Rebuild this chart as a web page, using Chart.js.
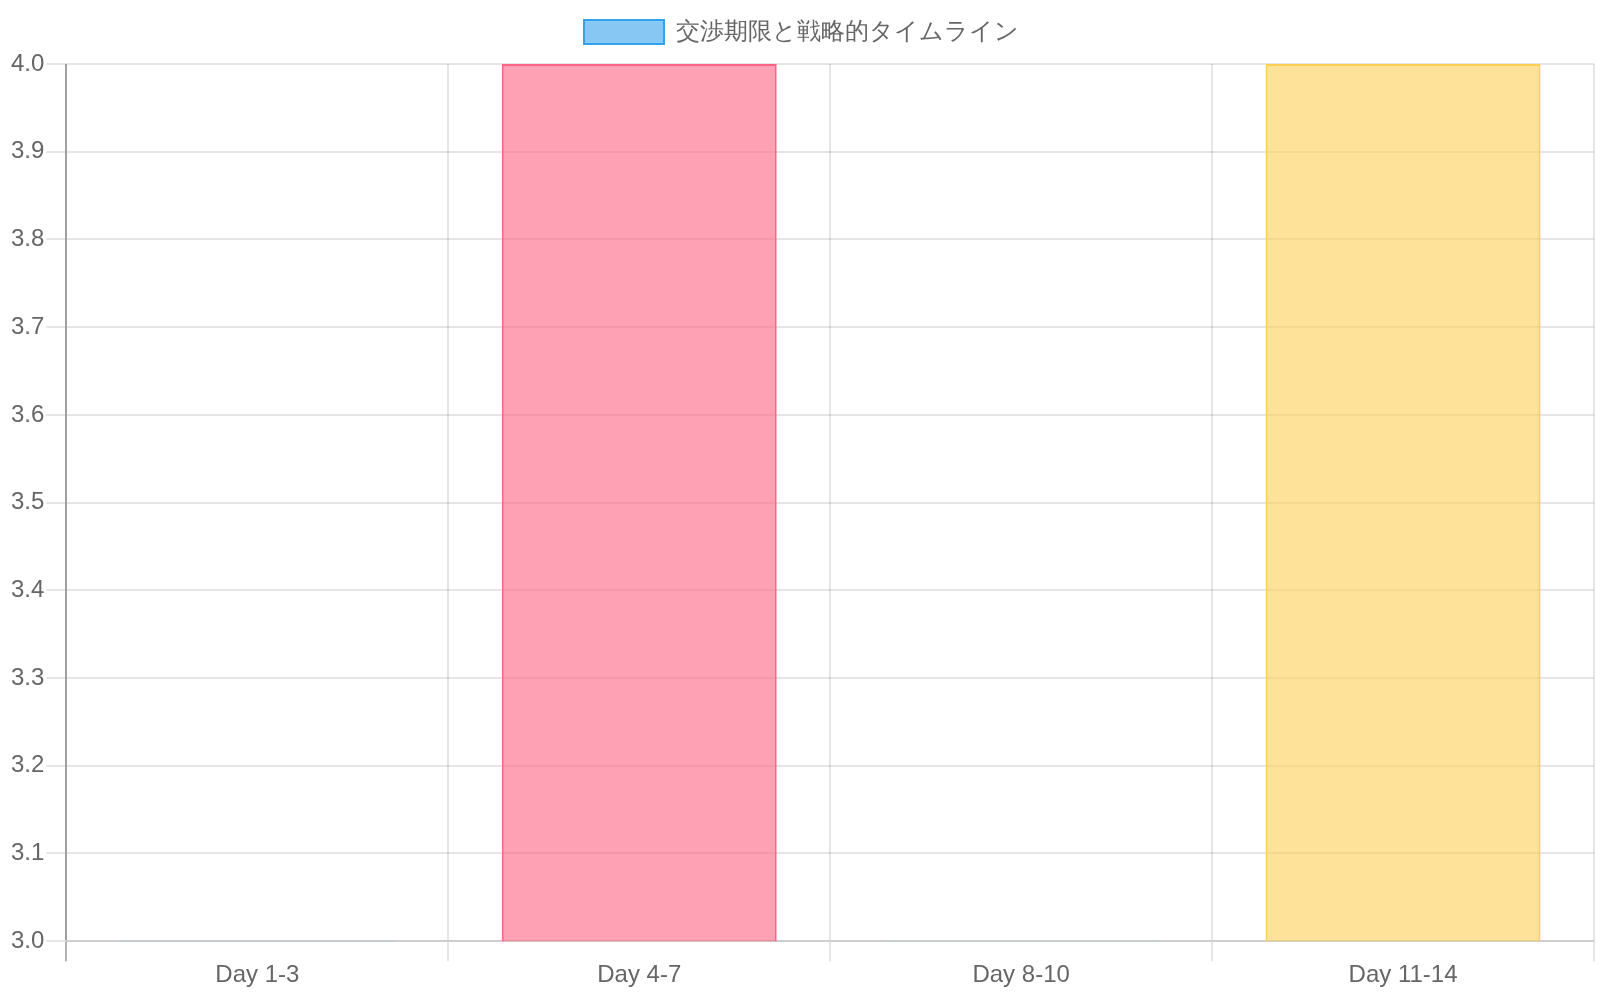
<!DOCTYPE html>
<html lang="ja">
<head>
<meta charset="utf-8">
<script src="https://cdn.jsdelivr.net/npm/chart.js@4.4.0/dist/chart.umd.min.js"></script>
<style>
  html, body { margin: 0; padding: 0; background: #fff; }
  #wrap { width: 1600px; height: 1000px; }
</style>
</head>
<body>
<div id="wrap"><canvas id="timelineChart"></canvas></div>
<script>
 (function () {
     // chart data
     var labels = ['Day 1-3', 'Day 4-7', 'Day 8-10', 'Day 11-14'];
     var values = [3, 4, 3, 4];
     var fillColors = [
         'rgba(54, 162, 235, 0.6)',
         'rgba(255, 99, 132, 0.6)',
         'rgba(75, 192, 192, 0.6)',
         'rgba(255, 206, 86, 0.6)'
     ];
     var lineColors = [
         'rgba(54, 162, 235, 1)',
         'rgba(255, 99, 132, 1)',
         'rgba(75, 192, 192, 1)',
         'rgba(255, 206, 86, 1)'
     ];

     // everything at twice the usual size
     Chart.defaults.font.size = 24;

     // a bit more room under the legend
     var legendGap = {
         id: 'legendGap',
         beforeInit: function (chart) {
             var fit = chart.legend.fit;
             chart.legend.fit = function () {
                 fit.call(this);
                 this.height += 10;
             };
         }
     };

     var ctx = document.getElementById('timelineChart').getContext('2d');
     var myChart = new Chart(ctx, {
         type: 'bar',
         data: {
             labels: labels,
             datasets: [{
                 label: '交渉期限と戦略的タイムライン',
                 data: values,
                 backgroundColor: fillColors,
                 borderColor: lineColors,
                 // no outline on the flat bars sitting on the axis
                 borderWidth: function (c) {
                     return c.parsed && c.parsed.y > c.chart.scales.y.min ? 2 : 0;
                 }
             }]
         },
         options: {
             responsive: true,
             maintainAspectRatio: false,
             animation: false,
             layout: {
                 padding: { left: 9, right: 6, bottom: 10 }
             },
             scales: {
                 x: {
                     grid: {
                         lineWidth: 2,
                         tickLength: 20,
                         color: function (c) {
                             return c.index === 0 ? 'rgba(0, 0, 0, 0.3)' : 'rgba(0, 0, 0, 0.1)';
                         }
                     },
                     border: { width: 2 },
                     ticks: { padding: 0 }
                 },
                 y: {
                     beginAtZero: false,
                     grid: { lineWidth: 2, tickLength: 20 },
                     border: { width: 2 },
                     ticks: { padding: 2 }
                 }
             },
             plugins: {
                 legend: {
                     labels: {
                         boxWidth: 80,
                         padding: 20,
                         generateLabels: function (chart) {
                             var items = Chart.defaults.plugins.legend.labels.generateLabels(chart);
                             items.forEach(function (item) { item.lineWidth = 2; });
                             return items;
                         }
                     }
                 }
             }
         },
         plugins: [legendGap]
     });
 })();
</script>
</body>
</html>
